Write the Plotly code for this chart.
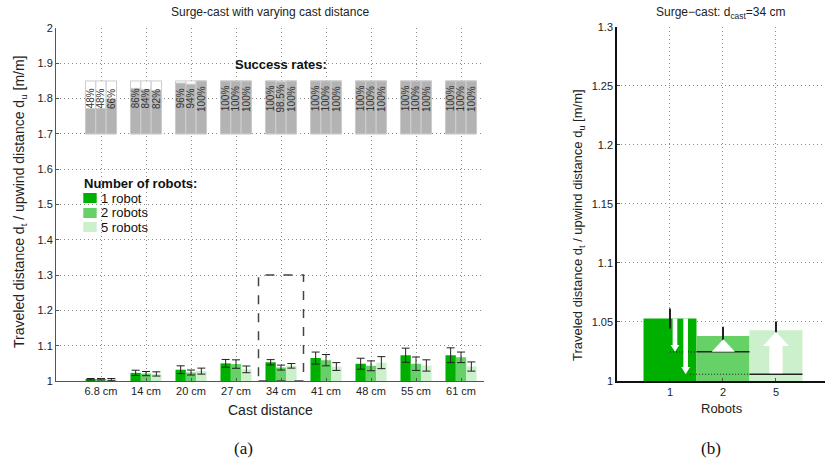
import plotly.graph_objects as go

W, H = 825, 465

# ---------------- data ----------------
cast_labels = ["6.8 cm", "14 cm", "20 cm", "27 cm", "34 cm", "41 cm", "48 cm", "55 cm", "61 cm"]
robot_labels = ["1 robot", "2 robots", "5 robots"]
robot_ticks = ["1", "2", "5"]

ratio_1 = [1.005, 1.023, 1.032, 1.050, 1.053, 1.065, 1.049, 1.073, 1.073]
ratio_2 = [1.005, 1.021, 1.024, 1.048, 1.038, 1.059, 1.043, 1.049, 1.067]
ratio_5 = [1.004, 1.020, 1.028, 1.033, 1.043, 1.041, 1.052, 1.044, 1.041]

err_1 = [0.002, 0.0075, 0.011, 0.011, 0.0076, 0.017, 0.0155, 0.020, 0.021]
err_2 = [0.002, 0.006, 0.007, 0.012, 0.007, 0.016, 0.014, 0.019, 0.015]
err_5 = [0.003, 0.006, 0.0085, 0.0095, 0.0065, 0.011, 0.017, 0.016, 0.013]

success_1 = [48, 86, 96, 100, 100, 100, 100, 100, 100]
success_2 = [48, 84, 94, 100, 98.5, 100, 100, 100, 100]
success_5 = [66, 82, 100, 100, 100, 100, 100, 100, 100]
success_text_1 = ["48%", "86%", "96%", "100%", "100%", "100%", "100%", "100%", "100%"]
success_text_2 = ["48%", "84%", "94%", "100%", "98.5%", "100%", "100%", "100%", "100%"]
success_text_5 = ["66%", "82%", "100%", "100%", "100%", "100%", "100%", "100%", "100%"]

# right panel (d_cast = 34 cm)
zoom_index = 4
right_vals = [1.053, 1.038, 1.043]
right_errs = [0.0076, 0.007, 0.0065]
# reference levels indicated by the arrows / lines
level_a = 1.0247
level_b = 1.0057

# ---------------- style ----------------
colors = ["#00B000", "#66D166", "#CCEFCC"]
gray_fill = "#B3B3B3"
box_line = "#CCCCCC"
grid_col = "#8C8C8C"
axis_col = "#555555"
font_main = "Liberation Sans, Arial, sans-serif"

def px(x):
    return x / W

def py(y):
    return 1 - y / H

xs = list(range(1, len(cast_labels) + 1))
bw = 0.23
offsets = [-1.5 * bw, -0.5 * bw, 0.5 * bw]

fig = go.Figure()

# success-rate boxes (white background + gray fill)
succ_base = 1.7
succ_span = 0.15
for i, rates in enumerate([success_1, success_2, success_5]):
    fig.add_trace(go.Bar(x=xs, y=[succ_span] * len(xs), base=succ_base, width=bw, offset=offsets[i],
                         marker=dict(color="white", line=dict(color=box_line, width=1)),
                         showlegend=False, hoverinfo="skip", xaxis="x", yaxis="y"))
    fig.add_trace(go.Bar(x=xs, y=[succ_span * r / 100 for r in rates], base=succ_base, width=bw,
                         offset=offsets[i],
                         marker=dict(color=gray_fill, line=dict(color=box_line, width=1)),
                         showlegend=False, hoverinfo="skip", xaxis="x", yaxis="y"))

# main bars
for i, (vals, errs) in enumerate(zip([ratio_1, ratio_2, ratio_5], [err_1, err_2, err_5])):
    fig.add_trace(go.Bar(x=xs, y=[v - 1 for v in vals], base=1, width=bw, offset=offsets[i],
                         marker=dict(color=colors[i], line=dict(width=0)),
                         error_y=dict(type="data", array=errs, color="#222222", thickness=1, width=4),
                         name=robot_labels[i], showlegend=False, xaxis="x", yaxis="y"))

# right panel bars
rx = [1, 2, 3]
for i in range(3):
    fig.add_trace(go.Bar(x=[rx[i]], y=[right_vals[i] - 1], base=1, width=1.0,
                         marker=dict(color=colors[i], line=dict(width=0)),
                         error_y=dict(type="data", array=[right_errs[i]], color="#222222",
                                      thickness=2, width=1),
                         showlegend=False, xaxis="x2", yaxis="y2"))

# reference lines in right panel
fig.add_trace(go.Scatter(x=[1.0, 1.5], y=[level_a, level_a], mode="lines",
                         line=dict(color="#222", width=1.2, dash="1px,2px"),
                         showlegend=False, hoverinfo="skip", xaxis="x2", yaxis="y2"))
fig.add_trace(go.Scatter(x=[1.5, 2.5], y=[level_a, level_a], mode="lines",
                         line=dict(color="#222", width=1.5),
                         showlegend=False, hoverinfo="skip", xaxis="x2", yaxis="y2"))
fig.add_trace(go.Scatter(x=[1.38, 2.5], y=[level_b, level_b], mode="lines",
                         line=dict(color="#222", width=1.2, dash="1px,2px"),
                         showlegend=False, hoverinfo="skip", xaxis="x2", yaxis="y2"))
fig.add_trace(go.Scatter(x=[2.5, 3.5], y=[level_b, level_b], mode="lines",
                         line=dict(color="#222", width=1.5),
                         showlegend=False, hoverinfo="skip", xaxis="x2", yaxis="y2"))

shapes = []

def arrow_path(cx, y_from, y_to, shaft_hw, head_hw, head_len):
    d = 1 if y_to > y_from else -1
    yh = y_to - d * head_len
    return (f"M {cx - shaft_hw} {y_from} L {cx - shaft_hw} {yh} L {cx - head_hw} {yh} "
            f"L {cx} {y_to} L {cx + head_hw} {yh} L {cx + shaft_hw} {yh} L {cx + shaft_hw} {y_from} Z")

# white arrows (right panel)
shapes.append(dict(type="path", xref="x2", yref="y2",
                   path=arrow_path(1.094, right_vals[0], level_a, 0.044, 0.082, 0.0057),
                   fillcolor="white", line=dict(width=0)))
shapes.append(dict(type="path", xref="x2", yref="y2",
                   path=arrow_path(1.296, right_vals[0], level_b, 0.044, 0.082, 0.0062),
                   fillcolor="white", line=dict(width=0)))
shapes.append(dict(type="path", xref="x2", yref="y2",
                   path=f"M 1.787 {level_a} L 2.006 {level_a + 0.0106} L 2.226 {level_a} Z",
                   fillcolor="white", line=dict(width=0)))
shapes.append(dict(type="path", xref="x2", yref="y2",
                   path=arrow_path(3.0, level_b + 0.0008, right_vals[2] - 0.0012, 0.126, 0.246, 0.0121),
                   fillcolor="white", line=dict(width=0)))

# dashed zoom rectangle around 34 cm
shapes.append(dict(type="rect", xref="x", yref="y", x0=zoom_index + 0.5, x1=zoom_index + 1.5,
                   y0=1.0, y1=1.3, line=dict(color="#444", width=1.5, dash="dash"),
                   fillcolor="rgba(0,0,0,0)"))

# legend swatches
leg_y = [198, 213, 227]
for i in range(3):
    shapes.append(dict(type="rect", xref="paper", yref="paper",
                       x0=px(83.3), x1=px(96.7), y0=py(leg_y[i] + 5), y1=py(leg_y[i] - 5),
                       fillcolor=colors[i], line=dict(width=0)))

C = dict(xanchor="center", yanchor="middle", showarrow=False)
annotations = []
# success-rate text
for i, txts in enumerate([success_text_1, success_text_2, success_text_5]):
    for x, t in zip(xs, txts):
        annotations.append(dict(x=x + offsets[i] + bw / 2, y=1.8, xref="x", yref="y", text=t,
                                textangle=-90, font=dict(size=10, color="#333", family=font_main), **C))
annotations.append(dict(x=5, y=1.896, xref="x", yref="y", text="<b>Success rates:</b>",
                        font=dict(size=13, color="#111", family=font_main), **C))
# legend text
annotations.append(dict(x=px(82), y=py(183), xref="paper", yref="paper", xanchor="left",
                        yanchor="middle", text="<b>Number of robots:</b>", showarrow=False,
                        font=dict(size=13, color="#111", family=font_main)))
for i in range(3):
    annotations.append(dict(x=px(99), y=py(leg_y[i]), xref="paper", yref="paper", xanchor="left",
                            yanchor="middle", text=robot_labels[i], showarrow=False,
                            font=dict(size=13, color="#111", family=font_main)))
# titles / labels
annotations += [
    dict(x=px(270), y=py(12), xref="paper", yref="paper", text="Surge-cast with varying cast distance",
         font=dict(size=12, color="#222", family=font_main), **C),
    dict(x=px(720), y=py(13), xref="paper", yref="paper", text="Surge\u2212cast: d<sub>cast</sub>=34 cm",
         font=dict(size=12, color="#222", family=font_main), **C),
    dict(x=px(270), y=py(410), xref="paper", yref="paper", text="Cast distance",
         font=dict(size=14, color="#222", family=font_main), **C),
    dict(x=px(722), y=py(408), xref="paper", yref="paper", text="Robots",
         font=dict(size=13, color="#222", family=font_main), **C),
    dict(x=px(20), y=py(202), xref="paper", yref="paper", textangle=-90,
         text="Traveled distance d<sub>t</sub> / upwind distance d<sub>u</sub> [m/m]",
         font=dict(size=14, color="#222", family=font_main), **C),
    dict(x=px(578), y=py(225), xref="paper", yref="paper", textangle=-90,
         text="Traveled distance d<sub>t</sub> / upwind distance d<sub>u</sub> [m/m]",
         font=dict(size=13, color="#222", family=font_main), **C),
    dict(x=px(243), y=py(448), xref="paper", yref="paper", text="(a)",
         font=dict(size=17, color="#111", family="Liberation Serif, serif"), **C),
    dict(x=px(711), y=py(448), xref="paper", yref="paper", text="(b)",
         font=dict(size=17, color="#111", family="Liberation Serif, serif"), **C),
]

axis_common = dict(showgrid=True, gridcolor=grid_col, griddash="1px,3px", gridwidth=1,
                   zeroline=False, ticks="inside", ticklen=3, tickcolor=axis_col,
                   tickfont=dict(size=11, color="#222", family=font_main),
                   showline=True, linecolor=axis_col, linewidth=1, automargin=False)

fig.update_layout(
    template="none",
    width=W, height=H, margin=dict(l=0, r=0, t=0, b=0, pad=0, autoexpand=False),
    paper_bgcolor="white", plot_bgcolor="white",
    barmode="overlay", showlegend=False,
    font=dict(family=font_main),
    xaxis=dict(domain=[px(56), px(483.5)], range=[0, 9.5], tickvals=xs, ticktext=cast_labels,
               anchor="y", **axis_common),
    yaxis=dict(domain=[py(381), py(28)], range=[1, 2], dtick=0.1, anchor="x", **axis_common),
    xaxis2=dict(domain=[px(617), 1.0], range=[0, 3.925], tickvals=rx, ticktext=robot_ticks,
                anchor="y2", **{**axis_common, "linecolor": "#111", "linewidth": 1.5}),
    yaxis2=dict(domain=[py(381), py(26.7)], range=[1, 1.3], dtick=0.05, anchor="x2",
                **{**axis_common, "linecolor": "#111", "linewidth": 1.5}),
    shapes=shapes, annotations=annotations,
)

fig.write_html("out.html", config={"displayModeBar": False},
               post_script="document.body.style.margin='0px';")
